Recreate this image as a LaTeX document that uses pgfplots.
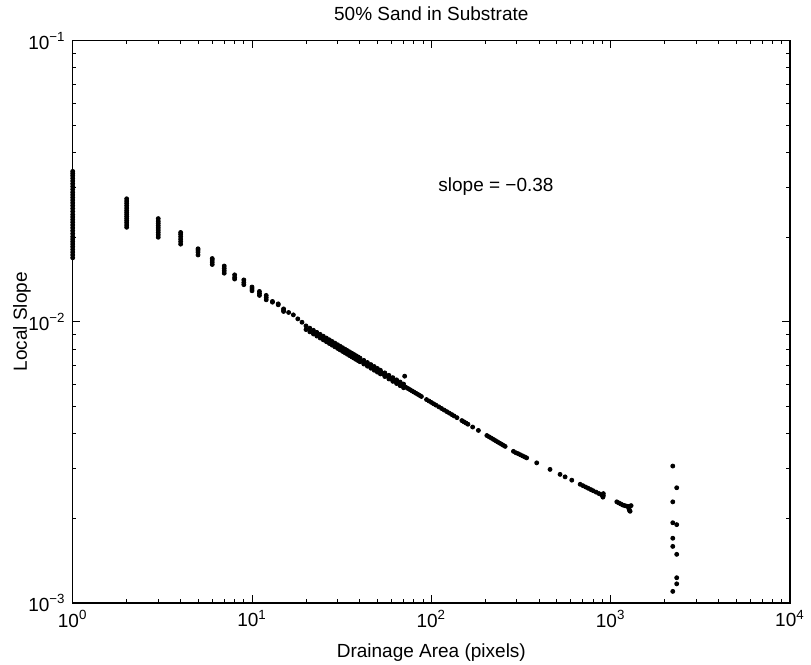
\documentclass[border=0pt]{standalone}
\usepackage{fontspec}
\setmainfont{Liberation Sans}
\usepackage{pgfplots}
\pgfplotsset{compat=1.18}
\begin{document}
\begin{tikzpicture}
\path[use as bounding box] (-36.35pt,-31pt) rectangle (369.15pt,301.5pt);
\begin{axis}[
  at={(0pt,0pt)}, anchor=south west,
  scale only axis, width=358.65pt, height=281.15pt,
  xmode=log, ymode=log,
  xmin=1, xmax=10000, ymin=0.001, ymax=0.1,
  xtick={1,10,100,1000,10000},
  xticklabels={10\textsuperscript{0},10\textsuperscript{1},10\textsuperscript{2},10\textsuperscript{3},10\textsuperscript{4}},
  ytick={0.001,0.01,0.1},
  yticklabels={10\textsuperscript{−3},10\textsuperscript{−2},10\textsuperscript{−1}},
  tick align=inside, tick pos=both,
  major tick length=3.8pt, minor tick length=1.9pt,
  axis line style={line width=0.7pt},
  every tick/.style={black, line width=0.5pt},
  tick label style={font=\fontsize{9.5}{11}\selectfont},
  title={50\% Sand in Substrate},
  every axis title/.style={at={(axis description cs:0.5,1.0473)}, anchor=center, font=\fontsize{9.5}{11}\selectfont},
  xlabel={Drainage Area (pixels)},
  every axis x label/.style={at={(axis description cs:0.5,-0.0889)}, anchor=center, font=\fontsize{9.5}{11}\selectfont},
  ylabel={Local Slope},
  every axis y label/.style={at={(axis description cs:-0.0706,0.5)}, rotate=90, anchor=center, font=\fontsize{9.5}{11}\selectfont},
  clip=false,
]
\addplot[only marks, mark=*, mark size=1pt, black] table[row sep=\\] {
x y \\
1 0.0169 \\ 1 0.0173 \\ 1 0.0177 \\ 1 0.0181 \\ 1 0.0185 \\ 1 0.0189 \\ 1 0.0193 \\ 1 0.0197 \\
1 0.0201 \\ 1 0.0206 \\ 1 0.0211 \\ 1 0.0216 \\ 1 0.0221 \\ 1 0.0226 \\ 1 0.0231 \\ 1 0.0236 \\
1 0.0241 \\ 1 0.0247 \\ 1 0.0253 \\ 1 0.0259 \\ 1 0.0265 \\ 1 0.0271 \\ 1 0.0277 \\ 1 0.0283 \\
1 0.0289 \\ 1 0.0296 \\ 1 0.0303 \\ 1 0.0310 \\ 1 0.0317 \\ 1 0.0324 \\ 1 0.0331 \\ 1 0.0337 \\ 1 0.0343 \\
2 0.0217 \\ 2 0.0221 \\ 2 0.0225 \\ 2 0.0229 \\ 2 0.0233 \\ 2 0.0237 \\ 2 0.0241 \\ 2 0.0245 \\
2 0.0249 \\ 2 0.0254 \\ 2 0.0259 \\ 2 0.0264 \\ 2 0.0269 \\ 2 0.0274 \\
3 0.0200 \\ 3 0.0204 \\ 3 0.0208 \\ 3 0.0212 \\ 3 0.0216 \\ 3 0.0220 \\ 3 0.0224 \\ 3 0.0228 \\ 3 0.0233 \\
4 0.0189 \\ 4 0.0193 \\ 4 0.0197 \\ 4 0.0201 \\ 4 0.0205 \\ 4 0.0208 \\
5 0.0173 \\ 5 0.0177 \\ 5 0.0180 \\ 5 0.0182 \\
6 0.0160 \\ 6 0.0163 \\ 6 0.0166 \\ 6 0.0168 \\
7 0.0149 \\ 7 0.0152 \\ 7 0.0155 \\ 7 0.0158 \\
8 0.0142 \\ 8 0.0144 \\ 8 0.0147 \\
9 0.01356 \\ 9 0.0138 \\ 9 0.0141 \\
10 0.0129 \\ 10 0.0131 \\ 10 0.0133 \\
11 0.01242 \\ 11 0.01262 \\ 11 0.01283 \\
12 0.01198 \\ 12 0.0122 \\ 12 0.01242 \\
13 0.01175 \\ 13 0.01182 \\
14 0.0115 \\ 14 0.01159 \\
15 0.01089 \\ 15 0.0110 \\ 15 0.01112 \\
16 0.0108 \\ 17 0.01059 \\ 18 0.01025 \\ 19 0.00997 \\
20 0.009674 \\ 20 0.009388 \\ 21 0.009496 \\ 21 0.009216 \\ 22 0.009330 \\ 22 0.009054 \\
23 0.009174 \\ 23 0.008902 \\ 24 0.009026 \\ 24 0.008760 \\ 25 0.008887 \\ 25 0.008625 \\
26 0.008756 \\ 26 0.008498 \\ 27 0.008632 \\ 27 0.008376 \\ 28 0.008513 \\ 28 0.008261 \\
29 0.008400 \\ 29 0.008152 \\ 30 0.008293 \\ 30 0.008047 \\ 31 0.008190 \\ 31 0.007948 \\
32 0.008092 \\ 32 0.007852 \\ 33 0.007997 \\ 33 0.007761 \\ 34 0.007907 \\ 34 0.007673 \\
35 0.007821 \\ 35 0.007589 \\ 36 0.007737 \\ 36 0.007509 \\ 37 0.007657 \\ 37 0.007431 \\
38 0.007580 \\ 38 0.007356 \\ 39 0.007505 \\ 39 0.007283 \\ 40 0.007434 \\ 40 0.007214 \\
41 0.007256 \\ 42 0.007297 \\ 42 0.007081 \\ 43 0.007125 \\ 44 0.007169 \\ 44 0.006957 \\
45 0.007003 \\ 46 0.007049 \\ 46 0.006841 \\ 47 0.006889 \\ 48 0.006937 \\ 48 0.006731 \\
49 0.006781 \\ 50 0.006830 \\ 50 0.006628 \\ 51 0.006679 \\ 52 0.006728 \\ 52 0.006530 \\
53 0.006582 \\ 54 0.006535 \\ 55 0.006586 \\ 55 0.006392 \\ 56 0.006445 \\ 57 0.006401 \\
58 0.006454 \\ 58 0.006264 \\ 59 0.006318 \\ 60 0.006278 \\ 61 0.006332 \\ 61 0.006144 \\
62 0.006200 \\ 63 0.006163 \\ 64 0.006218 \\ 64 0.006034 \\ 65 0.006090 \\ 66 0.006055 \\
67 0.006110 \\ 67 0.005930 \\ 68 0.005986 \\ 69 0.005953 \\ 70 0.006009 \\ 70 0.005831 \\
71 0.00641 \\
72 0.005857 \\ 74 0.005797 \\ 76 0.005739 \\ 78 0.005682 \\ 80 0.005628 \\ 82 0.005575 \\
84 0.005525 \\ 86 0.005476 \\ 88 0.005428 \\
94 0.005293 \\ 97 0.005230 \\ 100 0.005170 \\ 103 0.005112 \\ 106 0.005057 \\ 110 0.004987 \\
114 0.004919 \\ 118 0.004855 \\ 122 0.004794 \\ 126 0.004736 \\ 130 0.004680 \\ 134 0.004627 \\ 139 0.004563 \\
148 0.004455 \\ 152 0.004410 \\ 156 0.004367 \\ 160 0.004325 \\ 170 0.004226 \\ 183 0.004110 \\
204 0.003943 \\ 210 0.003900 \\ 216 0.003859 \\ 222 0.003819 \\ 228 0.003780 \\ 234 0.003743 \\
240 0.003707 \\ 246 0.003673 \\ 252 0.003639 \\ 258 0.003607 \\
287 0.003463 \\ 296 0.003423 \\ 305 0.003397 \\ 314 0.003366 \\ 323 0.003336 \\ 332 0.003308 \\ 340 0.003283 \\
387 0.003152 \\ 459 0.002987 \\ 522 0.002868 \\ 557 0.002810 \\ 607 0.002735 \\
676 0.002644 \\ 700 0.002615 \\ 725 0.002586 \\ 750 0.002559 \\ 775 0.002532 \\ 800 0.002507 \\
830 0.002479 \\ 860 0.002451 \\ 890 0.002424 \\ 905 0.00238 \\ 910 0.002408 \\ 910 0.00245 \\
1082 0.00229 \\ 1110 0.00227 \\ 1140 0.00225 \\ 1170 0.00223 \\ 1200 0.00222 \\ 1230 0.00221 \\
1255 0.00220 \\ 1280 0.00221 \\ 1300 0.00222 \\ 1265 0.00216 \\ 1275 0.00213 \\ 1283 0.00212 \\
2220 0.00307 \\ 2220 0.00229 \\ 2220 0.00193 \\ 2220 0.00170 \\ 2220 0.00159 \\ 2220 0.00110 \\
2335 0.00257 \\ 2335 0.00190 \\ 2335 0.00149 \\ 2335 0.00123 \\ 2335 0.00117 \\
};
\node[anchor=west, font=\fontsize{9.5}{11}\selectfont] at (axis cs:100,0.0302) {slope = −0.38};
\end{axis}
\end{tikzpicture}
\end{document}
